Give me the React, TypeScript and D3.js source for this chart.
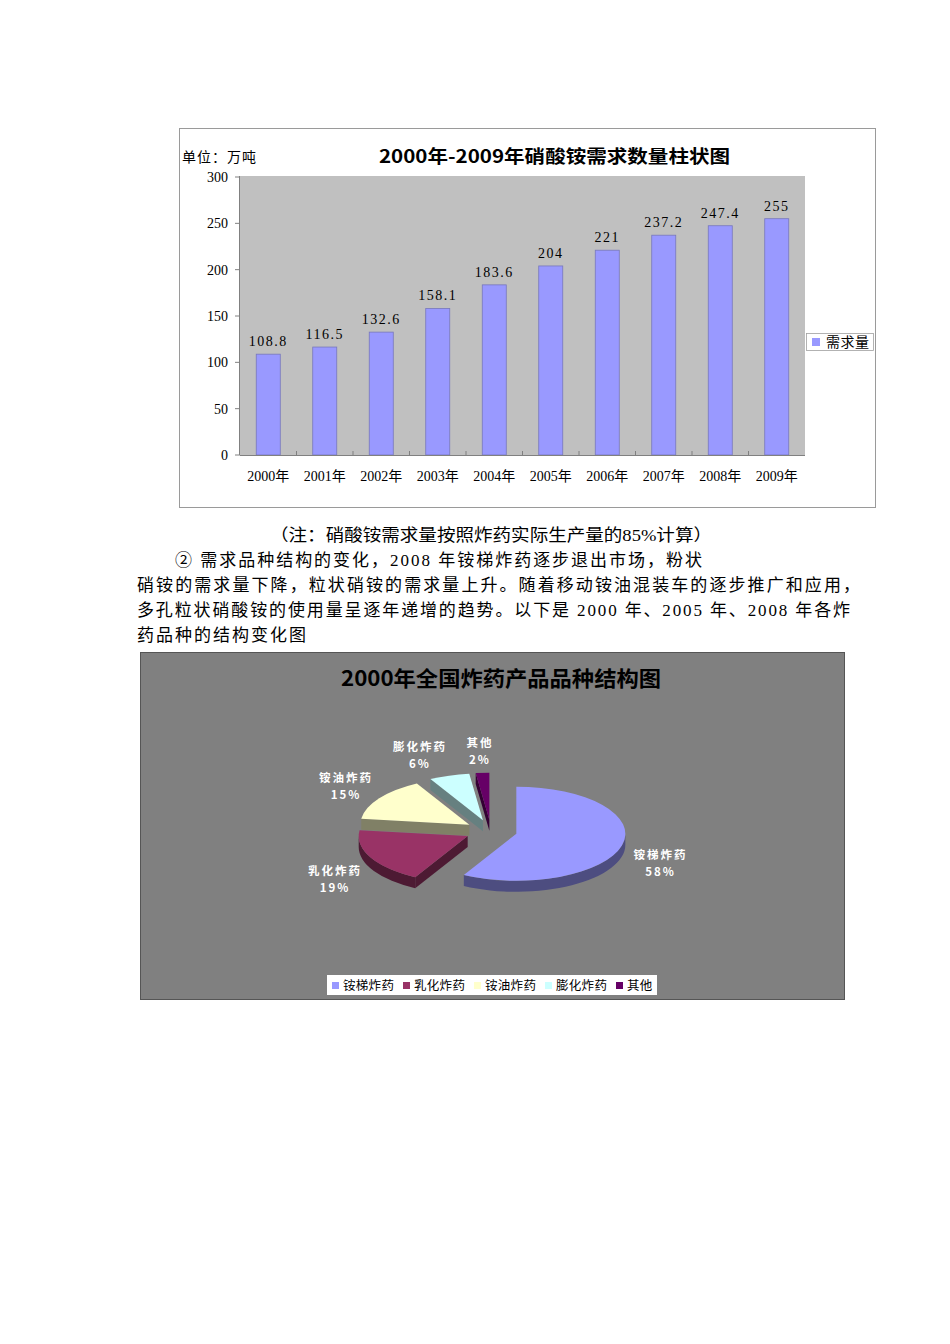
import * as d3 from "d3";

// ---- bar chart data ----
const years = ["2000年", "2001年", "2002年", "2003年", "2004年", "2005年", "2006年", "2007年", "2008年", "2009年"];
const demand = [108.8, 116.5, 132.6, 158.1, 183.6, 204, 221, 237.2, 247.4, 255];
const yTicks = [0, 50, 100, 150, 200, 250, 300];

// ---- pie chart data ----
const pieNames = ["铵梯炸药", "乳化炸药", "铵油炸药", "膨化炸药", "其他"];
const pieShares = [58, 19, 15, 6, 2];
const pieColors = ["#9999FF", "#993366", "#FFFFCC", "#CCFFFF", "#660066"];

// ---- text ----
const noteLine = "（注：硝酸铵需求量按照炸药实际生产量的85%计算）";
const paraLines = [
  "② 需求品种结构的变化，2008 年铵梯炸药逐步退出市场，粉状",
  "硝铵的需求量下降，粒状硝铵的需求量上升。随着移动铵油混装车的逐步推广和应用，",
  "多孔粒状硝酸铵的使用量呈逐年递增的趋势。以下是 2000 年、2005 年、2008 年各炸",
  "药品种的结构变化图",
];

const SERIF = "'Liberation Serif', 'Noto Sans CJK SC', serif";
const SANS = "'Noto Sans CJK SC', 'Noto Sans', sans-serif";

// bar chart layout
const BAR = { x0: 179, y0: 128, x1: 875, y1: 507 };
const PLOT = { left: 240, right: 805, top: 176, bottom: 455 };

// pie layout
const PIE_BOX = { x0: 140, y0: 652, x1: 844, y1: 999 };
const CX = 491;
const CY = 831;
const RX = 109;
const RY = 47;
const DEPTH = 11;
const EXPLODE = 0.24;

function shade(c: string, k: number) {
  const rgb = d3.rgb(c);
  return d3.rgb(rgb.r * k, rgb.g * k, rgb.b * k).formatHex();
}

function BarChart() {
  const x = d3.scaleBand<string>()
    .domain(years)
    .range([PLOT.left, PLOT.right])
    .paddingInner(0.575)
    .paddingOuter(0.2875);
  const y = d3.scaleLinear().domain([0, 300]).range([PLOT.bottom, PLOT.top + 1]);
  const fmt = (v: number) => (v % 1 ? v.toFixed(1) : String(v));
  const step = x.step();

  return (
    <g>
      <rect x={BAR.x0 + 0.5} y={BAR.y0 + 0.5} width={BAR.x1 - BAR.x0} height={BAR.y1 - BAR.y0}
        fill="#fff" stroke="#9a9a9a" />
      <rect x={PLOT.left} y={PLOT.top} width={PLOT.right - PLOT.left} height={PLOT.bottom - PLOT.top} fill="#C0C0C0" />
      <text x={182} y={162} fontSize={14} fontFamily={SERIF} letterSpacing={1}>单位：万吨</text>
      <text x={379} y={163} fontSize={18} fontWeight="bold" fontFamily={SANS}
        textLength={351} lengthAdjust="spacingAndGlyphs">2000年-2009年硝酸铵需求数量柱状图</text>

      {/* y axis */}
      <line x1={PLOT.left - 0.5} x2={PLOT.left - 0.5} y1={PLOT.top} y2={PLOT.bottom} stroke="#808080" />
      {yTicks.map(t => (
        <g key={t}>
          <line x1={PLOT.left - 5} x2={PLOT.left} y1={y(t)} y2={y(t)} stroke="#808080" />
          <text x={228} y={y(t) + 5} fontSize={14} textAnchor="end" fontFamily={SERIF}>{t}</text>
        </g>
      ))}

      {/* bars */}
      {demand.map((v, i) => (
        <g key={years[i]}>
          <rect x={x(years[i])!} y={y(v)} width={x.bandwidth()} height={y(0) - y(v)}
            fill="#9999FF" stroke="#7777BB" strokeWidth={0.8} />
          <text x={x(years[i])! + x.bandwidth() / 2} y={y(v) - 8} fontSize={14} textAnchor="middle"
            fontFamily={SERIF} letterSpacing={1.5}>{fmt(v)}</text>
        </g>
      ))}

      {/* x axis */}
      <line x1={PLOT.left} x2={PLOT.right} y1={PLOT.bottom + 0.5} y2={PLOT.bottom + 0.5} stroke="#808080" />
      {years.slice(1).map((yr, i) => (
        <line key={yr} x1={PLOT.left + (i + 1) * step} x2={PLOT.left + (i + 1) * step}
          y1={PLOT.bottom - 4} y2={PLOT.bottom} stroke="#808080" />
      ))}
      {years.map(yr => (
        <text key={yr} x={x(yr)! + x.bandwidth() / 2} y={481} fontSize={14} textAnchor="middle"
          fontFamily={SERIF}>{yr}</text>
      ))}

      {/* legend */}
      <rect x={806.5} y={333.5} width={67} height={17} fill="#fff" stroke="#a0a0a0" strokeWidth={0.8} />
      <rect x={812} y={338} width={8} height={8} fill="#9999FF" />
      <text x={826} y={347} fontSize={14} fontFamily={SERIF} letterSpacing={0.5}>需求量</text>
    </g>
  );
}

function PieChart() {
  const arcs = d3.pie<number>().sort(null).startAngle(0).endAngle(2 * Math.PI)(pieShares);

  const slices = arcs.map((a, i) => {
    const m = (a.startAngle + a.endAngle) / 2;
    const ax = CX + EXPLODE * RX * Math.sin(m);
    const ay = CY - EXPLODE * RY * Math.cos(m);
    const P = (t: number, d = 0): [number, number] => [ax + RX * Math.sin(t), ay - RY * Math.cos(t) + d];
    const s = a.startAngle;
    const e = a.endAngle;
    const large = e - s > Math.PI ? 1 : 0;
    const ps = P(s);
    const pe = P(e);
    const top = `M${ax},${ay}L${ps[0]},${ps[1]}A${RX},${RY} 0 ${large} 1 ${pe[0]},${pe[1]}Z`;

    const faces: string[] = [];
    if (Math.sin(s) < -1e-6) {
      const b = P(s, DEPTH);
      faces.push(`M${ax},${ay}L${ps[0]},${ps[1]}L${b[0]},${b[1]}L${ax},${ay + DEPTH}Z`);
    }
    if (Math.sin(e) > 1e-6) {
      const b = P(e, DEPTH);
      faces.push(`M${ax},${ay}L${pe[0]},${pe[1]}L${b[0]},${b[1]}L${ax},${ay + DEPTH}Z`);
    }
    const a1 = Math.max(s, Math.PI / 2);
    const a2 = Math.min(e, (3 * Math.PI) / 2);
    if (a2 > a1) {
      const w1 = P(a1);
      const w2 = P(a2);
      const w2d = P(a2, DEPTH);
      const w1d = P(a1, DEPTH);
      faces.push(`M${w1[0]},${w1[1]}A${RX},${RY} 0 0 1 ${w2[0]},${w2[1]}L${w2d[0]},${w2d[1]}A${RX},${RY} 0 0 0 ${w1d[0]},${w1d[1]}Z`);
    }

    // label placement
    const c = Math.cos(m);
    const lx = CX + 175 * Math.sin(m);
    const ly = CY - 80 * c + (c < 0 ? DEPTH + 1 : 0);
    return { i, m, top, faces, lx, ly };
  });

  // push overlapping upper labels apart (right-most keeps its place)
  const upper = slices.filter(d => Math.cos(d.m) > 0).sort((a, b) => b.lx - a.lx);
  for (let k = 1; k < upper.length; k++) {
    const r = upper[k - 1];
    const l = upper[k];
    const need = (pieNames[r.i].length + pieNames[l.i].length) * 7 + 18;
    if (r.lx - l.lx < need) l.lx = r.lx - need;
  }

  const order = [...slices].sort((a, b) => Math.cos(b.m) - Math.cos(a.m));

  // legend items
  let lx = 332;
  const legend = pieNames.map((n, i) => {
    const item = { n, i, x: lx };
    lx += 11 + n.length * 13 + 8;
    return item;
  });

  return (
    <g>
      <rect x={PIE_BOX.x0 + 0.5} y={PIE_BOX.y0 + 0.5} width={PIE_BOX.x1 - PIE_BOX.x0} height={PIE_BOX.y1 - PIE_BOX.y0}
        fill="#808080" stroke="#555" />
      <text x={341} y={686} fontSize={21} fontWeight="bold" fontFamily={SANS} fill="#000"
        textLength={320} lengthAdjust="spacingAndGlyphs">2000年全国炸药产品品种结构图</text>

      {order.map(d => (
        <g key={d.i}>
          {d.faces.map((f, k) => (
            <path key={k} d={f} fill={shade(pieColors[d.i], 0.5)} />
          ))}
          <path d={d.top} fill={pieColors[d.i]} />
        </g>
      ))}

      {slices.map(d => (
        <g key={d.i} fill="#fff" fontSize={11.5} fontFamily={SANS} fontWeight="bold" textAnchor="middle">
          <text x={d.lx} y={d.ly - 4} letterSpacing={2}>{pieNames[d.i]}</text>
          <text x={d.lx} y={d.ly + 13} letterSpacing={2}>{pieShares[d.i]}%</text>
        </g>
      ))}

      <rect x={327} y={975} width={330} height={20} fill="#fff" />
      {legend.map(it => (
        <g key={it.n}>
          <rect x={it.x} y={982} width={7} height={7} fill={pieColors[it.i]} />
          <text x={it.x + 11} y={990} fontSize={12.5} fontFamily={SERIF} fill="#000" letterSpacing={0.3}>{it.n}</text>
        </g>
      ))}
    </g>
  );
}

export default function App() {
  return (
    <svg width={950} height={1344} style={{ position: "absolute", left: 0, top: 0, background: "#fff" }}>
      <BarChart />
      <text x={270} y={541} fontSize={16.5} fontFamily={SERIF} textLength={442} lengthAdjust="spacingAndGlyphs">{noteLine}</text>
      <text x={175} y={566} fontSize={17} fontFamily={SERIF} textLength={527} lengthAdjust="spacing">{paraLines[0]}</text>
      <text x={137} y={591} fontSize={17} fontFamily={SERIF} textLength={723} lengthAdjust="spacing">{paraLines[1]}</text>
      <text x={137} y={616} fontSize={17} fontFamily={SERIF} textLength={713} lengthAdjust="spacing">{paraLines[2]}</text>
      <text x={137} y={641} fontSize={17} fontFamily={SERIF} letterSpacing={2}>{paraLines[3]}</text>
      <PieChart />
    </svg>
  );
}
